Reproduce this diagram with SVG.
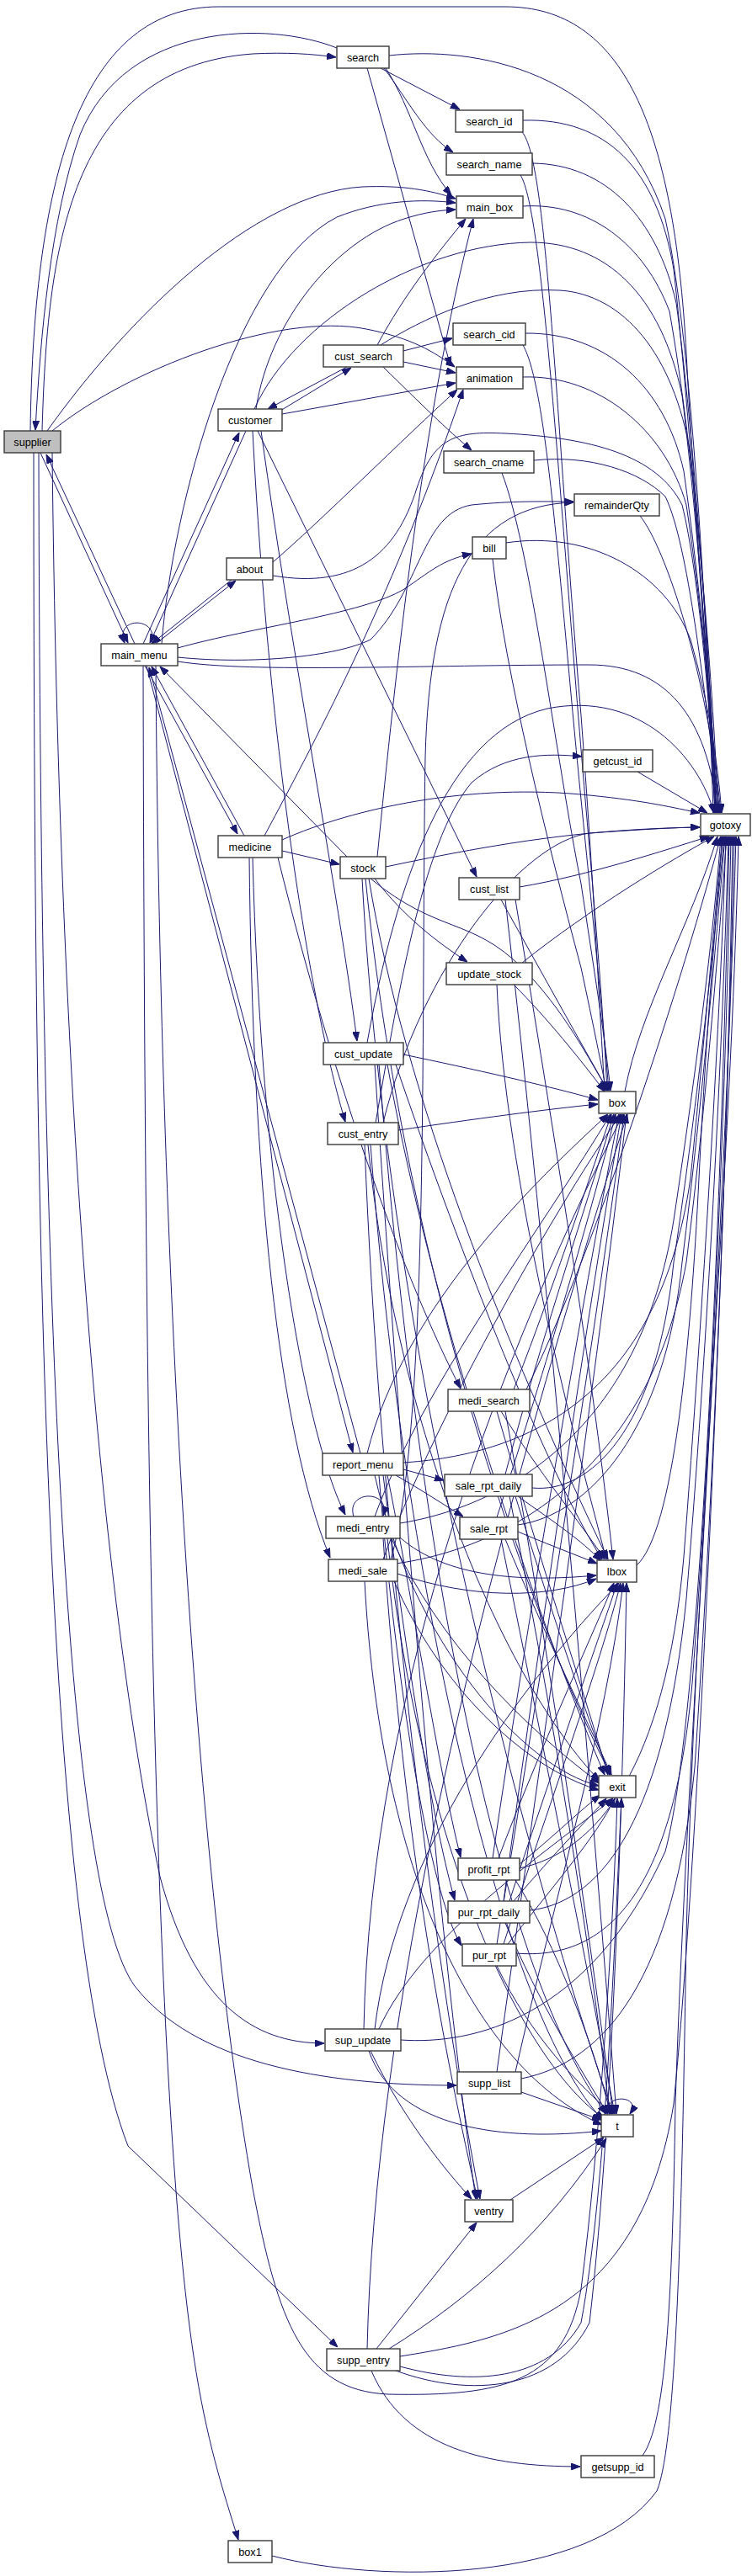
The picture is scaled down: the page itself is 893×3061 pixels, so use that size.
<svg xmlns="http://www.w3.org/2000/svg" width="893" height="3061" viewBox="0 0 893 3061">
<style>
.n rect{fill:#fff;stroke:#3a3a3a;stroke-width:1.4}
.n text{font-family:"Liberation Sans",Arial,sans-serif;font-size:12.7px;text-anchor:middle;fill:#000}
#supplier rect{fill:#bfbfbf}
.e path{fill:none;stroke:#191970;stroke-width:1;marker-end:url(#a)}
</style>
<defs>
<marker id="a" markerUnits="userSpaceOnUse" markerWidth="11" markerHeight="8" refX="11" refY="4" orient="auto"><path d="M0,0 L11,4 L0,8 z" fill="#191970" stroke="#191970" stroke-width="1"/></marker>
</defs>
<rect width="893" height="3061" fill="#fff"/>
<g class="e" id="edges">
<path d="M36 512 C40 200,100 8,260 8 L600 8 C740 8,800 150,815 420 C830 700,848 860,850 966"/>
<path d="M400 57 C320 25,150 25,95 160 C60 260,48 400,42 511"/>
<path d="M50 512 C56 300,80 80,300 64 C340 62,370 64,399 68"/>
<path d="M56 512 C150 380,300 230,430 222 C480 220,510 226,541 236"/>
<path d="M62 512 C150 440,330 370,435 391 C490 402,515 418,540 436"/>
<path d="M48 538 L152 764"/>
<path d="M160 765 L55 540"/>
<path d="M62 538 C70 1300,120 1900,190 2230 C230 2380,300 2428,385 2428"/>
<path d="M46 538 C48 1600,80 2250,160 2360 C230 2450,380 2478,542 2478"/>
<path d="M40 538 C40 1500,55 2300,152 2550 L401 2789"/>
<path d="M452 81 L546 130"/>
<path d="M456 81 C485 120,505 160,538 181"/>
<path d="M458 81 C490 130,500 190,536 232"/>
<path d="M436 81 L535 435"/>
<path d="M462 66 C560 55,730 80,790 260 C825 420,842 800,847 966"/>
<path d="M621 143 C720 140,780 200,800 320 C820 500,840 800,849 966"/>
<path d="M620 157 C650 190,660 500,690 850 C705 1050,712 1200,718 1296"/>
<path d="M632 194 C720 195,780 260,803 360 C825 520,843 800,851 966"/>
<path d="M618 208 C645 250,665 600,695 950 C708 1100,716 1200,721 1296"/>
<path d="M621 245 C700 240,765 290,795 370 C825 540,846 800,853 966"/>
<path d="M192 765 C205 600,280 320,400 258 C450 238,500 236,541 241"/>
<path d="M304 486 C320 380,400 285,480 260 C505 252,522 250,541 249"/>
<path d="M333 488 L417 437"/>
<path d="M412 436 L318 486"/>
<path d="M448 410 C480 350,520 300,553 260"/>
<path d="M479 417 L537 402"/>
<path d="M479 430 L541 443"/>
<path d="M455 436 C500 480,530 510,560 535"/>
<path d="M335 492 L541 455"/>
<path d="M452 410 C500 380,580 340,665 345 C740 350,800 420,820 540 C838 700,847 870,850 966"/>
<path d="M302 486 C350 380,500 290,630 288 C720 288,785 350,810 470 C832 650,845 860,849 966"/>
<path d="M621 410 C650 460,665 700,690 950 C705 1100,715 1200,723 1296"/>
<path d="M624 396 C720 395,790 460,812 560 C832 700,846 860,852 966"/>
<path d="M621 448 C710 445,790 510,815 600 C833 720,847 870,854 966"/>
<path d="M596 562 C630 650,660 900,690 1050 C705 1150,718 1230,725 1296"/>
<path d="M634 547 C700 540,760 560,790 590 C820 650,840 860,855 966"/>
<path d="M324 684 C420 700,470 660,495 580 C515 520,540 512,600 515 C700 520,780 540,810 600 C830 680,845 860,850 966"/>
<path d="M760 613 C790 650,840 800,856 966"/>
<path d="M601 645 C700 630,790 680,820 760 C840 830,852 900,857 966"/>
<path d="M585 664 C600 800,650 1000,690 1150 C705 1220,715 1270,720 1296"/>
<path d="M185 765 L280 690"/>
<path d="M275 689 L180 765"/>
<path d="M324 668 C380 620,480 520,543 463"/>
<path d="M448 1018 C470 800,500 500,562 260"/>
<path d="M180 765 C190 732,135 732,148 764"/>
<path d="M170 765 L284 514"/>
<path d="M292 512 L178 764"/>
<path d="M211 770 C300 745,430 730,480 700 C510 680,525 665,560 658"/>
<path d="M211 786 C300 800,500 790,700 790 C790 790,840 850,852 966"/>
<path d="M211 781 C300 790,400 780,440 760 C500 700,500 610,560 600 C610 595,640 596,681 596"/>
<path d="M172 791 L282 991"/>
<path d="M290 993 L180 792"/>
<path d="M412 1018 L190 792"/>
<path d="M174 791 L419 1726"/>
<path d="M428 1727 L177 793"/>
<path d="M170 791 C172 1800,185 2500,230 2800 C245 2900,265 2960,283 3018"/>
<path d="M185 791 C190 1500,230 2200,300 2600 C330 2760,360 2840,460 2845 C600 2848,670 2830,690 2720 C712 2550,728 2300,733 2137"/>
<path d="M335 1011 L403 1027"/>
<path d="M314 993 C380 870,470 700,550 463"/>
<path d="M300 1019 C310 1400,360 1700,410 1800"/>
<path d="M296 1019 C300 1400,330 1700,392 1851"/>
<path d="M330 1019 C400 1300,480 1520,547 1650"/>
<path d="M335 998 C420 960,560 930,700 945 C770 952,800 960,831 966"/>
<path d="M445 1044 C480 1090,520 1120,555 1143"/>
<path d="M440 1044 C520 1110,560 1090,620 1150 C670 1200,700 1260,722 1296"/>
<path d="M438 1044 C480 1300,600 1600,722 1853"/>
<path d="M434 1044 C480 1500,620 1900,725 2109"/>
<path d="M430 1044 C460 1600,620 2200,728 2512"/>
<path d="M458 1030 C600 1000,700 985,831 983"/>
<path d="M306 512 L566 1042"/>
<path d="M617 1054 C700 1040,790 1010,842 994"/>
<path d="M595 1069 C640 1150,690 1240,722 1296"/>
<path d="M612 1069 C650 1300,700 1600,728 1853"/>
<path d="M600 1069 C650 1500,700 2100,732 2512"/>
<path d="M620 1144 C700 1080,800 1020,848 994"/>
<path d="M610 1170 C650 1210,690 1260,718 1297"/>
<path d="M590 1170 C600 1400,680 1700,720 1853"/>
<path d="M310 512 C350 800,400 1050,424 1237"/>
<path d="M479 1253 C560 1270,650 1290,710 1307"/>
<path d="M470 1265 C550 1500,650 1750,715 1853"/>
<path d="M460 1265 C520 1600,650 1950,718 2109"/>
<path d="M445 1265 C480 1800,520 2300,565 2613"/>
<path d="M450 1265 C500 1900,600 2350,720 2512"/>
<path d="M436 1239 C470 1050,530 870,650 842 C760 820,830 900,848 966"/>
<path d="M300 512 C320 900,370 1200,410 1333"/>
<path d="M473 1343 C560 1330,650 1318,710 1312"/>
<path d="M446 1334 C470 1200,500 1000,560 930 C600 895,650 895,691 899"/>
<path d="M433 1360 C450 1800,510 2300,570 2613"/>
<path d="M440 1360 C480 1900,600 2400,716 2519"/>
<path d="M455 1334 C500 1150,620 1000,700 990 C770 985,810 983,831 983"/>
<path d="M437 1360 C470 1700,600 2000,712 2116"/>
<path d="M757 917 L840 966"/>
<path d="M742 1297 C760 1200,820 1100,852 994"/>
<path d="M610 1651 C650 1550,700 1400,726 1324"/>
<path d="M595 1677 C640 1750,690 1810,718 1853"/>
<path d="M590 1677 C640 1850,690 2000,722 2109"/>
<path d="M600 1677 C650 1950,700 2300,728 2512"/>
<path d="M625 1651 C700 1500,800 1200,856 994"/>
<path d="M479 1746 L527 1759"/>
<path d="M470 1753 C500 1770,530 1790,550 1802"/>
<path d="M460 1753 C490 1900,520 2100,547 2207"/>
<path d="M455 1753 C480 1950,510 2150,540 2258"/>
<path d="M450 1753 C470 2000,510 2250,548 2312"/>
<path d="M479 1738 C600 1730,780 1680,820 1400 C840 1200,852 1050,858 994"/>
<path d="M436 1727 C480 1550,640 1400,722 1324"/>
<path d="M445 1753 C490 1950,620 2100,711 2122"/>
<path d="M600 1752 C640 1600,700 1420,729 1324"/>
<path d="M615 1778 C660 1810,690 1830,714 1855"/>
<path d="M612 1778 C650 1900,700 2050,724 2109"/>
<path d="M605 1778 C650 2000,700 2300,724 2512"/>
<path d="M632 1768 C700 1775,780 1700,800 1500 C830 1300,850 1100,860 994"/>
<path d="M420 1802 C410 1770,465 1770,455 1801"/>
<path d="M445 1802 C500 1650,650 1450,725 1324"/>
<path d="M475 1827 C530 1875,620 1880,708 1872"/>
<path d="M465 1828 C520 1950,620 2050,712 2119"/>
<path d="M455 1828 C480 2200,530 2450,567 2613"/>
<path d="M460 1828 C500 2200,620 2450,718 2518"/>
<path d="M475 1810 C600 1790,760 1700,800 1450 C830 1250,848 1100,856 994"/>
<path d="M615 1820 C650 1835,690 1850,709 1858"/>
<path d="M590 1803 C640 1650,700 1450,731 1324"/>
<path d="M600 1829 C650 1950,700 2050,726 2109"/>
<path d="M595 1829 C640 2050,700 2350,730 2512"/>
<path d="M615 1812 C700 1800,790 1700,810 1500 C835 1300,852 1100,861 994"/>
<path d="M756 1860 C800 1820,820 1600,830 1400 C840 1200,850 1100,858 994"/>
<path d="M464 1853 C510 1700,500 1200,505 900 C510 700,560 600,681 597"/>
<path d="M455 1853 C510 1700,650 1450,737 1324"/>
<path d="M472 1870 C560 1900,650 1900,708 1876"/>
<path d="M468 1879 C520 2000,620 2100,711 2127"/>
<path d="M433 1879 C450 2200,550 2450,715 2525"/>
<path d="M470 1858 C600 1840,770 1750,815 1500 C840 1300,855 1100,863 994"/>
<path d="M585 2208 C630 1900,700 1500,735 1324"/>
<path d="M592 2208 C640 2080,705 1940,729 1881"/>
<path d="M617 2215 C660 2180,690 2150,713 2133"/>
<path d="M612 2234 C660 2310,705 2430,725 2512"/>
<path d="M617 2220 C710 2200,790 2100,812 1850 C835 1550,856 1200,862 994"/>
<path d="M598 2259 C640 1950,700 1550,738 1324"/>
<path d="M605 2259 C650 2120,710 1950,733 1881"/>
<path d="M610 2259 C660 2200,700 2160,720 2137"/>
<path d="M600 2285 C640 2380,690 2460,722 2512"/>
<path d="M629 2270 C720 2260,790 2150,815 1900 C840 1600,858 1250,865 994"/>
<path d="M590 2310 C640 2000,705 1600,741 1324"/>
<path d="M598 2310 C650 2150,712 1980,737 1881"/>
<path d="M603 2310 C650 2250,710 2180,730 2137"/>
<path d="M590 2336 C630 2420,690 2480,727 2512"/>
<path d="M613 2321 C720 2330,800 2250,822 2000 C845 1700,862 1300,868 994"/>
<path d="M619 2486 L714 2519"/>
<path d="M590 2462 C640 2100,700 1700,744 1324"/>
<path d="M612 2462 C660 2250,720 2050,740 1881"/>
<path d="M619 2470 C720 2450,800 2350,825 2100 C845 1800,864 1400,870 994"/>
<path d="M476 2424 C560 2430,700 2400,790 2200 C830 2050,855 1500,866 994"/>
<path d="M438 2437 C470 2530,600 2545,714 2532"/>
<path d="M440 2437 C480 2520,530 2580,560 2613"/>
<path d="M432 2411 C440 2000,600 1600,740 1324"/>
<path d="M445 2411 C470 2200,620 2000,735 1881"/>
<path d="M450 2411 C500 2300,650 2200,728 2137"/>
<path d="M724 2513 C712 2488,764 2488,748 2512"/>
<path d="M606 2614 L717 2540"/>
<path d="M441 2817 C480 2910,580 2931,689 2931"/>
<path d="M447 2791 L566 2641"/>
<path d="M462 2791 C560 2730,650 2650,720 2541"/>
<path d="M436 2791 C445 2400,560 1900,745 1324"/>
<path d="M475 2812 C560 2835,650 2830,690 2760 C720 2600,730 2300,738 2137"/>
<path d="M470 2817 C560 2850,660 2840,700 2760 C730 2500,740 2100,744 1881"/>
<path d="M475 2800 C600 2780,760 2750,800 2500 C830 2200,860 1500,872 994"/>
<path d="M763 2918 C790 2880,798 2750,802 2500 C815 2100,860 1500,874 994"/>
<path d="M323 3037 C450 3070,700 3070,780 2960 C805 2900,810 2600,815 2300 C828 1800,868 1400,877 994"/>
</g>
<g class="n" id="supplier"><rect x="5" y="512" width="67" height="26"/><text x="38.5" y="529.5">supplier</text></g>
<g class="n" id="search"><rect x="400" y="55" width="62" height="26"/><text x="431" y="72.5">search</text></g>
<g class="n" id="search_id"><rect x="541" y="131" width="80" height="26"/><text x="581" y="148.5">search_id</text></g>
<g class="n" id="search_name"><rect x="530" y="182" width="102" height="26"/><text x="581" y="199.5">search_name</text></g>
<g class="n" id="main_box"><rect x="542" y="233" width="79" height="26"/><text x="581.5" y="250.5">main_box</text></g>
<g class="n" id="search_cid"><rect x="538" y="384" width="86" height="26"/><text x="581" y="401.5">search_cid</text></g>
<g class="n" id="cust_search"><rect x="384" y="410" width="95" height="26"/><text x="431.5" y="427.5">cust_search</text></g>
<g class="n" id="animation"><rect x="542" y="436" width="79" height="26"/><text x="581.5" y="453.5">animation</text></g>
<g class="n" id="customer"><rect x="259" y="486" width="76" height="26"/><text x="297" y="503.5">customer</text></g>
<g class="n" id="search_cname"><rect x="527" y="536" width="107" height="26"/><text x="580.5" y="553.5">search_cname</text></g>
<g class="n" id="remainderQty"><rect x="682" y="587" width="101" height="26"/><text x="732.5" y="604.5">remainderQty</text></g>
<g class="n" id="bill"><rect x="561" y="638" width="40" height="26"/><text x="581" y="655.5">bill</text></g>
<g class="n" id="about"><rect x="269" y="663" width="55" height="26"/><text x="296.5" y="680.5">about</text></g>
<g class="n" id="main_menu"><rect x="120" y="765" width="91" height="26"/><text x="165.5" y="782.5">main_menu</text></g>
<g class="n" id="getcust_id"><rect x="692" y="891" width="83" height="26"/><text x="733.5" y="908.5">getcust_id</text></g>
<g class="n" id="gotoxy"><rect x="832" y="967" width="59" height="26"/><text x="861.5" y="984.5">gotoxy</text></g>
<g class="n" id="medicine"><rect x="259" y="993" width="76" height="26"/><text x="297" y="1010.5">medicine</text></g>
<g class="n" id="stock"><rect x="404" y="1018" width="54" height="26"/><text x="431" y="1035.5">stock</text></g>
<g class="n" id="cust_list"><rect x="545" y="1043" width="72" height="26"/><text x="581" y="1060.5">cust_list</text></g>
<g class="n" id="update_stock"><rect x="530" y="1144" width="102" height="26"/><text x="581" y="1161.5">update_stock</text></g>
<g class="n" id="cust_update"><rect x="384" y="1239" width="95" height="26"/><text x="431.5" y="1256.5">cust_update</text></g>
<g class="n" id="box"><rect x="711" y="1297" width="44" height="26"/><text x="733" y="1314.5">box</text></g>
<g class="n" id="cust_entry"><rect x="389" y="1334" width="84" height="26"/><text x="431" y="1351.5">cust_entry</text></g>
<g class="n" id="medi_search"><rect x="532" y="1651" width="97" height="26"/><text x="580.5" y="1668.5">medi_search</text></g>
<g class="n" id="report_menu"><rect x="383" y="1727" width="96" height="26"/><text x="431" y="1744.5">report_menu</text></g>
<g class="n" id="sale_rpt_daily"><rect x="528" y="1752" width="104" height="26"/><text x="580" y="1769.5">sale_rpt_daily</text></g>
<g class="n" id="medi_entry"><rect x="387" y="1802" width="88" height="26"/><text x="431" y="1819.5">medi_entry</text></g>
<g class="n" id="sale_rpt"><rect x="546" y="1803" width="69" height="26"/><text x="580.5" y="1820.5">sale_rpt</text></g>
<g class="n" id="lbox"><rect x="709" y="1854" width="47" height="26"/><text x="732.5" y="1871.5">lbox</text></g>
<g class="n" id="medi_sale"><rect x="390" y="1853" width="82" height="26"/><text x="431" y="1870.5">medi_sale</text></g>
<g class="n" id="exit"><rect x="711" y="2110" width="44" height="26"/><text x="733" y="2127.5">exit</text></g>
<g class="n" id="profit_rpt"><rect x="544" y="2208" width="73" height="26"/><text x="580.5" y="2225.5">profit_rpt</text></g>
<g class="n" id="pur_rpt_daily"><rect x="532" y="2259" width="97" height="26"/><text x="580.5" y="2276.5">pur_rpt_daily</text></g>
<g class="n" id="pur_rpt"><rect x="549" y="2310" width="64" height="26"/><text x="581" y="2327.5">pur_rpt</text></g>
<g class="n" id="sup_update"><rect x="386" y="2411" width="90" height="26"/><text x="431" y="2428.5">sup_update</text></g>
<g class="n" id="supp_list"><rect x="543" y="2462" width="76" height="26"/><text x="581" y="2479.5">supp_list</text></g>
<g class="n" id="t"><rect x="714" y="2513" width="38" height="26"/><text x="733" y="2530.5">t</text></g>
<g class="n" id="ventry"><rect x="552" y="2614" width="57" height="26"/><text x="580.5" y="2631.5">ventry</text></g>
<g class="n" id="supp_entry"><rect x="388" y="2791" width="87" height="26"/><text x="431.5" y="2808.5">supp_entry</text></g>
<g class="n" id="getsupp_id"><rect x="690" y="2918" width="87" height="26"/><text x="733.5" y="2935.5">getsupp_id</text></g>
<g class="n" id="box1"><rect x="271" y="3019" width="52" height="26"/><text x="297" y="3036.5">box1</text></g>
</svg>
